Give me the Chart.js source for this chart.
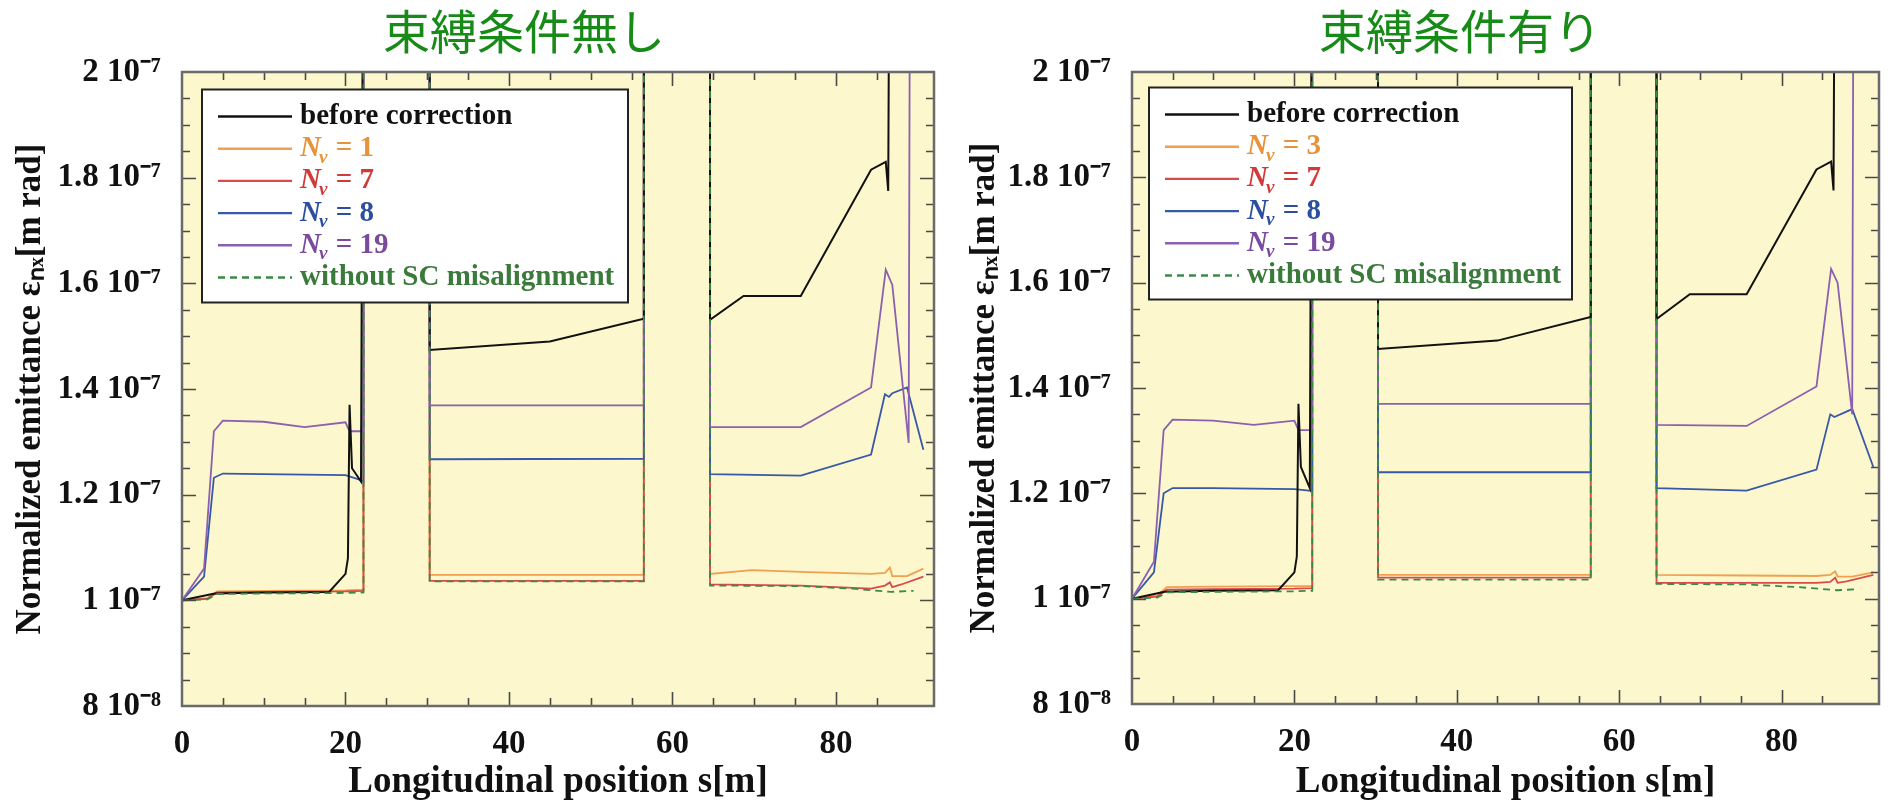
<!DOCTYPE html>
<html><head><meta charset="utf-8">
<script src="https://cdn.jsdelivr.net/npm/chart.js@4.4.0/dist/chart.umd.min.js"></script>
<style>
html,body{margin:0;padding:0;background:#fff;width:1890px;height:805px;overflow:hidden;}
.wrap{position:absolute;top:0;width:945px;height:805px;}
.ttl{position:absolute;top:3px;font-family:'Noto Sans CJK JP','Noto Sans CJK SC',sans-serif;font-size:47px;line-height:52px;color:#178a17;white-space:nowrap;transform:translateX(-50%);}
</style></head><body>
<div class="wrap" style="left:0"><canvas id="c1" width="945" height="805"></canvas></div>
<div class="wrap" style="left:945px"><canvas id="c2" width="945" height="805"></canvas></div>
<div class="ttl" style="left:524px">束縛条件無し</div>
<div class="ttl" style="left:1460px">束縛条件有り</div>
<script>
// ---------- DATA (emittance in units of 1e-7 m rad, s in m) ----------
const titles = ['束縛条件無し', '束縛条件有り'];
const seriesLabelsLeft  = ['before correction', 'Nν = 1', 'Nν = 7', 'Nν = 8', 'Nν = 19', 'without SC misalignment'];
const seriesLabelsRight = ['before correction', 'Nν = 3', 'Nν = 7', 'Nν = 8', 'Nν = 19', 'without SC misalignment'];
const yTickMajors = [0.8, 1.0, 1.2, 1.4, 1.6, 1.8, 2.0];
const xTickMajors = [0, 20, 40, 60, 80];

// ---- left plot (束縛条件無し) ----
const L_black_s = [0, 4, 10, 18, 20, 20.3, 20.5, 20.8, 21.9, 22.2, 30.3, 30.3, 45, 56.5, 56.5, 64.6, 64.6, 68.7, 75.7, 84.3, 86.1, 86.4, 86.6, 92];
const L_black_v = [1.0, 1.013, 1.015, 1.016, 1.05, 1.08, 1.37, 1.25, 1.225, 2.5, 2.5, 1.474, 1.49, 1.533, 2.5, 2.5, 1.531, 1.576, 1.576, 1.815, 1.83, 1.775, 2.5, 2.5];
const L_n1_s = [0, 3.1, 4.3, 10, 20, 22.2, 22.2, 30.3, 30.3, 56.5, 56.5, 64.6, 64.6, 69.7, 75.7, 84.3, 86.0, 86.6, 86.9, 88.7, 90.7];
const L_n1_v = [1.0, 1.004, 1.017, 1.018, 1.019, 1.02, 2.5, 2.5, 1.048, 1.048, 2.5, 2.5, 1.05, 1.057, 1.054, 1.05, 1.052, 1.062, 1.046, 1.046, 1.06];
const L_n7_s = [0, 3.1, 4.3, 10, 20, 22.2, 22.2, 30.3, 30.3, 56.5, 56.5, 64.6, 64.6, 75.7, 84.3, 86.0, 86.6, 86.9, 88, 90.7];
const L_n7_v = [1.0, 1.003, 1.015, 1.016, 1.017, 1.018, 2.5, 2.5, 1.037, 1.037, 2.5, 2.5, 1.03, 1.028, 1.022, 1.028, 1.034, 1.025, 1.03, 1.045];
const L_n8_s = [0, 2.7, 3.9, 5, 10, 20, 21.8, 22.2, 22.2, 30.3, 30.3, 56.5, 56.5, 64.6, 64.6, 75.7, 84.3, 86.0, 86.5, 86.9, 88.7, 90.7];
const L_n8_v = [1.0, 1.045, 1.232, 1.24, 1.239, 1.237, 1.228, 1.225, 2.5, 2.5, 1.267, 1.268, 2.5, 2.5, 1.239, 1.236, 1.276, 1.39, 1.385, 1.392, 1.403, 1.285];
const L_n19_s = [0, 2.7, 3.9, 5, 10, 15, 20, 20.5, 22.2, 22.2, 30.3, 30.3, 56.5, 56.5, 64.6, 64.6, 75.7, 84.3, 86.1, 86.9, 88.9, 89.1, 92];
const L_n19_v = [1.0, 1.06, 1.32, 1.34, 1.338, 1.328, 1.337, 1.32, 1.32, 2.5, 2.5, 1.369, 1.369, 2.5, 2.5, 1.328, 1.328, 1.403, 1.626, 1.597, 1.298, 2.5, 2.5];
const L_nosc_s = [0, 3.1, 4.3, 10, 20, 22.2, 22.2, 30.3, 30.3, 56.5, 56.5, 64.6, 64.6, 75.7, 82, 86.8, 89.5];
const L_nosc_v = [1.0, 1.002, 1.012, 1.013, 1.014, 1.015, 2.5, 2.5, 1.036, 1.036, 2.5, 2.5, 1.028, 1.027, 1.022, 1.016, 1.018];

// ---- right plot (束縛条件有り) ----
const R_black_s = [0, 4, 10, 18, 20, 20.3, 20.5, 20.8, 21.9, 22.2, 30.3, 30.3, 45, 56.5, 56.5, 64.6, 64.6, 68.7, 75.7, 84.3, 86.1, 86.4, 86.6, 92];
const R_black_v = [1.0, 1.013, 1.015, 1.016, 1.05, 1.08, 1.37, 1.25, 1.21, 2.5, 2.5, 1.474, 1.49, 1.535, 2.5, 2.5, 1.531, 1.578, 1.578, 1.815, 1.83, 1.775, 2.5, 2.5];
const R_n3_s = [0, 3.1, 4.3, 10, 20, 22.2, 22.2, 30.3, 30.3, 56.5, 56.5, 64.6, 64.6, 75.7, 84.3, 86.0, 86.6, 86.9, 88.7, 91.3];
const R_n3_v = [1.0, 1.006, 1.022, 1.023, 1.024, 1.024, 2.5, 2.5, 1.045, 1.045, 2.5, 2.5, 1.045, 1.044, 1.043, 1.045, 1.052, 1.042, 1.042, 1.05];
const R_n7_s = [0, 3.1, 4.3, 10, 20, 22.2, 22.2, 30.3, 30.3, 56.5, 56.5, 64.6, 64.6, 75.7, 84.3, 86.0, 86.6, 86.9, 88, 91.3];
const R_n7_v = [1.0, 1.004, 1.017, 1.018, 1.019, 1.02, 2.5, 2.5, 1.04, 1.04, 2.5, 2.5, 1.03, 1.03, 1.03, 1.032, 1.04, 1.03, 1.033, 1.045];
const R_n8_s = [0, 2.7, 3.9, 5, 10, 20, 21.8, 22.2, 22.2, 30.3, 30.3, 56.5, 56.5, 64.6, 64.6, 75.7, 84.3, 86.0, 86.5, 88.7, 91.3];
const R_n8_v = [1.0, 1.05, 1.2, 1.21, 1.21, 1.208, 1.205, 1.205, 2.5, 2.5, 1.24, 1.24, 2.5, 2.5, 1.21, 1.205, 1.245, 1.35, 1.345, 1.36, 1.25];
const R_n19_s = [0, 2.7, 3.9, 5, 10, 15, 20, 20.5, 22.2, 22.2, 30.3, 30.3, 56.5, 56.5, 64.6, 64.6, 75.7, 84.3, 86.1, 86.9, 88.7, 88.9, 92];
const R_n19_v = [1.0, 1.07, 1.32, 1.34, 1.338, 1.33, 1.338, 1.32, 1.32, 2.5, 2.5, 1.37, 1.37, 2.5, 2.5, 1.33, 1.328, 1.403, 1.626, 1.6, 1.35, 2.5, 2.5];
const R_nosc_s = [0, 3.1, 4.3, 10, 20, 22.2, 22.2, 30.3, 30.3, 56.5, 56.5, 64.6, 64.6, 75.7, 82, 86.8, 89.5];
const R_nosc_v = [1.0, 1.002, 1.012, 1.013, 1.014, 1.015, 2.5, 2.5, 1.036, 1.036, 2.5, 2.5, 1.028, 1.027, 1.022, 1.016, 1.018];

// ---------- STYLES ----------
const lineColors = ['#111111', '#f0a050', '#d94a4a', '#3858a8', '#8a60b0', '#3a8a48'];
const textColors = ['#111111', '#e8923a', '#d23a3a', '#2c4e9e', '#7a4a9e', '#3a7a3a'];
const drawOrder  = [1, 5, 4, 3, 2, 0];
const SERIF = "'Liberation Serif','Times New Roman',serif";

function pts(s, v){ return s.map((x, i) => ({x: x, y: v[i]})); }

function yLabel(v){
  const m = Math.round(v * 100);
  if (m % 20 !== 0) return '';
  if (m === 80) return '8 10\u207B\u2078';
  return String(m / 100) + ' 10\u207B\u2077';
}

const bgPlugin = {
  id: 'bgPlugin',
  beforeDatasetsDraw(chart){
    const {ctx, chartArea: a} = chart;
    ctx.save(); ctx.fillStyle = '#fcf7cc'; ctx.fillRect(a.left, a.top, a.width, a.height); ctx.restore();
  }
};

const frameTicks = {
  id: 'frameTicks',
  afterDatasetsDraw(chart){
    const {ctx, chartArea: a, scales: {x, y}} = chart;
    ctx.save();
    ctx.strokeStyle = '#4a4a4a'; ctx.lineWidth = 1.6;
    x.ticks.forEach(t => {
      const v = t.value;
      if (Math.abs(v / 5 - Math.round(v / 5)) > 1e-6 || v <= 0 || v >= x.max) return;
      const major = Math.abs(v / 20 - Math.round(v / 20)) < 1e-6;
      const L = major ? 14 : 8, px = Math.round(x.getPixelForValue(v)) + 0.5;
      ctx.beginPath(); ctx.moveTo(px, a.bottom); ctx.lineTo(px, a.bottom - L);
      ctx.moveTo(px, a.top); ctx.lineTo(px, a.top + L); ctx.stroke();
    });
    y.ticks.forEach(t => {
      const m = Math.round(t.value * 100);
      if (m % 5 !== 0 || m <= 80 || m >= 200) return;
      const major = m % 20 === 0;
      const L = major ? 14 : 8, py = Math.round(y.getPixelForValue(t.value)) + 0.5;
      ctx.beginPath(); ctx.moveTo(a.left, py); ctx.lineTo(a.left + L, py);
      ctx.moveTo(a.right, py); ctx.lineTo(a.right - L, py); ctx.stroke();
    });
    ctx.strokeStyle = '#6a6a6a'; ctx.lineWidth = 2.5;
    ctx.strokeRect(a.left, a.top, a.width, a.height);
    ctx.restore();
  }
};

const boxLegend = {
  id: 'boxLegend',
  afterDraw(chart, args, opts){
    const {ctx, chartArea: a} = chart;
    const bx = a.left + opts.dx, by = a.top + opts.dy, bw = opts.w, bh = opts.h;
    ctx.save();
    ctx.fillStyle = '#ffffff'; ctx.fillRect(bx, by, bw, bh);
    ctx.strokeStyle = '#222'; ctx.lineWidth = 2; ctx.strokeRect(bx, by, bw, bh);
    ctx.textBaseline = 'middle'; ctx.textAlign = 'left';
    chart.data.datasets.forEach((ds, i) => {
      const ry = by + 27 + i * 32.2;
      ctx.strokeStyle = ds.borderColor; ctx.lineWidth = 2.4;
      ctx.setLineDash(ds.borderDash || []);
      ctx.beginPath(); ctx.moveTo(bx + 16, ry); ctx.lineTo(bx + 90, ry); ctx.stroke();
      ctx.setLineDash([]);
      ctx.fillStyle = textColors[i];
      let tx = bx + 98;
      const lab = ds.label;
      if (lab.startsWith('Nν')) {
        ctx.font = 'italic bold 29px ' + SERIF; ctx.fillText('N', tx, ry); tx += ctx.measureText('N').width - 2;
        ctx.font = 'italic bold 19px ' + SERIF; ctx.fillText('ν', tx, ry + 9); tx += ctx.measureText('ν').width + 1;
        ctx.font = 'bold 29px ' + SERIF; ctx.fillText(lab.slice(2), tx, ry);
      } else {
        ctx.font = 'bold 29px ' + SERIF; ctx.fillText(lab, tx, ry);
      }
    });
    ctx.restore();
  }
};

function makeChart(id, labels, S, V, yWidth, rightPad, xHeight, yTitlePad, leg){
  const datasets = labels.map((lab, i) => ({
    label: lab,
    data: pts(S[i], V[i]),
    borderColor: lineColors[i],
    borderWidth: i === 0 ? 2 : 1.8,
    borderDash: i === 5 ? [7, 5] : undefined,
    pointRadius: 0,
    tension: 0,
    fill: false,
    order: drawOrder[i]
  }));
  return new Chart(document.getElementById(id), {
    type: 'line',
    data: {datasets},
    plugins: [bgPlugin, frameTicks, boxLegend],
    options: {
      responsive: false, animation: false, devicePixelRatio: 1,
      layout: {padding: {left: 0, right: rightPad, top: 72, bottom: 0}},
      plugins: {legend: {display: false}, tooltip: {enabled: false}, boxLegend: leg},
      scales: {
        x: {
          type: 'linear', min: 0, max: 92,
          grid: {display: false}, border: {display: false},
          ticks: {stepSize: 5, autoSkip: false, maxRotation: 0, padding: 11, color: '#111',
                  font: {family: SERIF, weight: 'bold', size: 33},
                  callback: v => (xTickMajors.includes(Math.round(v)) && Math.abs(v - Math.round(v)) < 1e-6) ? String(Math.round(v)) : ''},
          title: {display: true, text: 'Longitudinal position s[m]', color: '#111',
                  font: {family: SERIF, weight: 'bold', size: 37}, padding: {top: 2, bottom: 0}},
          afterFit: s => { s.height = xHeight; }
        },
        y: {
          type: 'linear', min: 0.8, max: 2.0,
          grid: {display: false}, border: {display: false},
          ticks: {stepSize: 0.05, autoSkip: false, padding: 13, color: '#111',
                  font: {family: SERIF, weight: 'bold', size: 33},
                  callback: v => yLabel(v)},
          title: {display: true, text: 'Normalized emittance εₙₓ[m rad]', color: '#111',
                  font: {family: SERIF, weight: 'bold', size: 35}, padding: {top: yTitlePad, bottom: 0}},
          afterFit: s => { s.width = yWidth; }
        }
      }
    }
  });
}

makeChart('c1', seriesLabelsLeft,
  [L_black_s, L_n1_s, L_n7_s, L_n8_s, L_n19_s, L_nosc_s],
  [L_black_v, L_n1_v, L_n7_v, L_n8_v, L_n19_v, L_nosc_v],
  182, 8, 99, 10, {dx: 20, dy: 17.5, w: 426, h: 213});
makeChart('c2', seriesLabelsRight,
  [R_black_s, R_n3_s, R_n7_s, R_n8_s, R_n19_s, R_nosc_s],
  [R_black_v, R_n3_v, R_n7_v, R_n8_v, R_n19_v, R_nosc_v],
  187, 7, 101, 19, {dx: 17, dy: 15.5, w: 423, h: 212});
</script>
</body></html>
